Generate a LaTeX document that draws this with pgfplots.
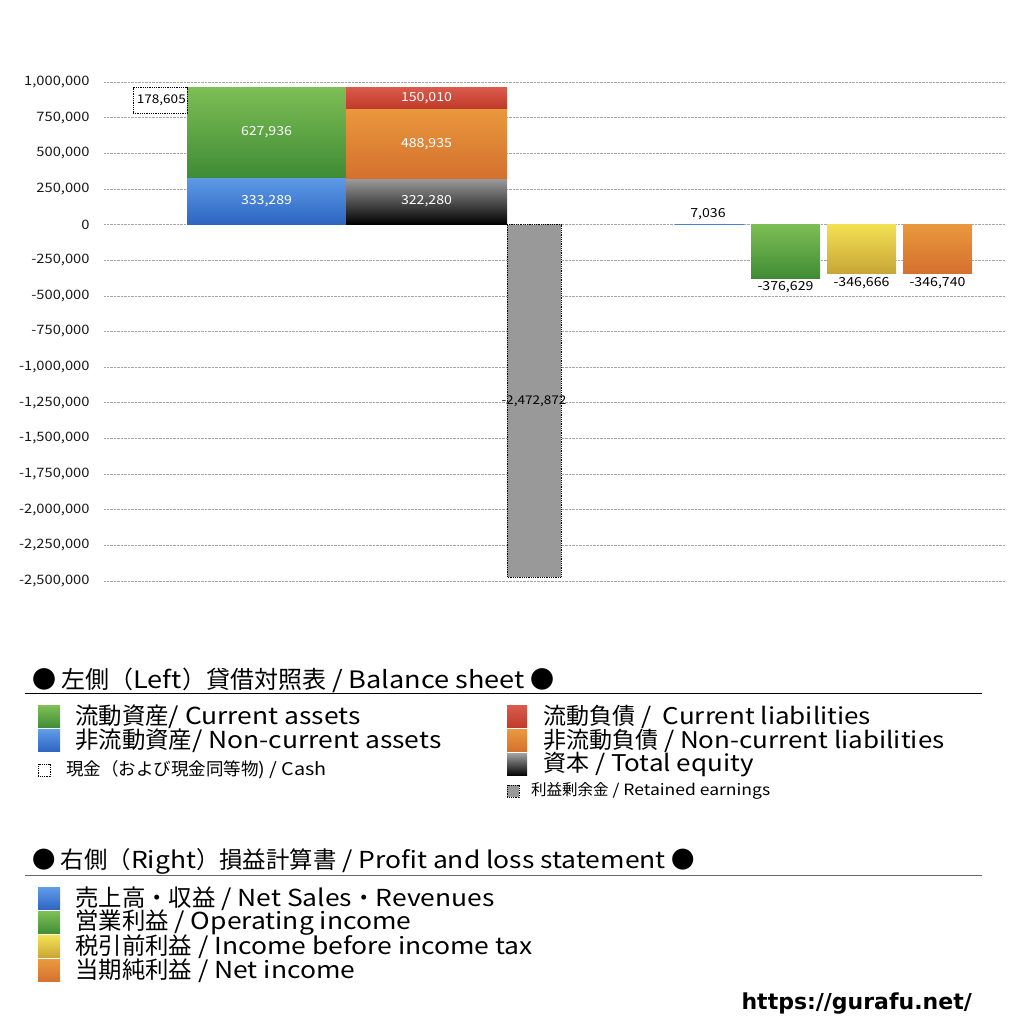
\documentclass[border=0pt]{standalone}
\usepackage{pgfplots}
\pgfplotsset{compat=1.18}
\usepackage{fontspec}
\setmainfont{Noto Sans CJK JP}[FakeStretch=1.13]
\newfontfamily\Jf{Noto Sans CJK JP}
\newfontfamily\urlfont{DejaVu Sans}
\newcommand{\J}[1]{{\Jf #1}}
\definecolor{gT}{HTML}{7DBE55}\definecolor{gB}{HTML}{3F8C35}
\definecolor{bT}{HTML}{5E9BE8}\definecolor{bB}{HTML}{2C64C0}
\definecolor{rT}{HTML}{DA5A4C}\definecolor{rB}{HTML}{BF3A2A}
\definecolor{oT}{HTML}{E9983D}\definecolor{oB}{HTML}{D4702E}
\definecolor{kT}{HTML}{9C9C9C}\definecolor{kB}{HTML}{000000}
\definecolor{yT}{HTML}{F3E052}\definecolor{yB}{HTML}{C6A536}
\definecolor{gr}{HTML}{999999}
\newcommand{\fs}[1]{\fontsize{#1}{#1}\selectfont}
\begin{document}
\begin{tikzpicture}
\path[use as bounding box] (0pt,0pt) rectangle (1024pt,1024pt);
\begin{axis}[
  at={(104pt,443pt)}, anchor=south west, scale only axis,
  width=901pt, height=499pt,
  xmin=104, xmax=1005, ymin=-2500000, ymax=1000000,
  axis line style={draw=none}, major tick length=0pt,
  xtick=\empty, scaled y ticks=false,
  ytick={-2500000,-2250000,-2000000,-1750000,-1500000,-1250000,-1000000,-750000,-500000,-250000,0,250000,500000,750000,1000000},
  yticklabels={{-2,500,000},{-2,250,000},{-2,000,000},{-1,750,000},{-1,500,000},{-1,250,000},{-1,000,000},{-750,000},{-500,000},{-250,000},{0},{250,000},{500,000},{750,000},{1,000,000}},
  yticklabel style={font=\fs{13}, text=black!90, xshift=-11pt},
  ymajorgrids, grid style={densely dotted, black!35, line width=0.6pt},
  clip=false,
]
% Left: assets
\addplot[draw=none, top color=bT, bottom color=bB] coordinates {(187,0) (346,0) (346,333289) (187,333289)} -- cycle;
\addplot[draw=none, top color=gT, bottom color=gB] coordinates {(187,333289) (346,333289) (346,961225) (187,961225)} -- cycle;
\addplot[draw=black, densely dotted, line width=0.8pt, fill=white] coordinates {(133,782620) (187,782620) (187,961225) (133,961225)} -- cycle;
% liabilities & equity
\addplot[draw=none, top color=kT, bottom color=kB] coordinates {(346,0) (507,0) (507,322280) (346,322280)} -- cycle;
\addplot[draw=none, top color=oT, bottom color=oB] coordinates {(346,322280) (507,322280) (507,811215) (346,811215)} -- cycle;
\addplot[draw=none, top color=rT, bottom color=rB] coordinates {(346,811215) (507,811215) (507,961225) (346,961225)} -- cycle;
\addplot[draw=black, densely dotted, line width=0.8pt, fill=gr] coordinates {(507,0) (561,0) (561,-2472872) (507,-2472872)} -- cycle;
% Profit and loss
\addplot[draw=none, top color=bT, bottom color=bB] coordinates {(675,0) (744,0) (744,7036) (675,7036)} -- cycle;
\addplot[draw=none, top color=gT, bottom color=gB] coordinates {(751,0) (820,0) (820,-376629) (751,-376629)} -- cycle;
\addplot[draw=none, top color=yT, bottom color=yB] coordinates {(827,0) (896,0) (896,-346666) (827,-346666)} -- cycle;
\addplot[draw=none, top color=oT, bottom color=oB] coordinates {(903,0) (972,0) (972,-346740) (903,-346740)} -- cycle;
% labels
\node[font=\fs{12.5}, text=white] at (axis cs:266.5,166645) {333,289};
\node[font=\fs{12.5}, text=white] at (axis cs:266.5,647257) {627,936};
\node[font=\fs{12}, anchor=east, inner sep=0] at (axis cs:186,871922) {178,605};
\node[font=\fs{12.5}, text=white] at (axis cs:426.5,161140) {322,280};
\node[font=\fs{12.5}, text=white] at (axis cs:426.5,566748) {488,935};
\node[font=\fs{12.5}, text=white] at (axis cs:426.5,886220) {150,010};
\node[font=\fs{12}] at (axis cs:534,-1236436) {-2,472,872};
\node[font=\fs{12.5}, anchor=south] at (axis cs:708,7036) {7,036};
\node[font=\fs{12.5}, anchor=north] at (axis cs:785.5,-376629) {-376,629};
\node[font=\fs{12.5}, anchor=north] at (axis cs:861.5,-346666) {-346,666};
\node[font=\fs{12.5}, anchor=north] at (axis cs:937.5,-346740) {-346,740};
\end{axis}
% Legend section 1
\node[anchor=west, font=\fs{24}, inner sep=0] at (32pt,344pt) {\J{● 左側（}Left\J{）貸借対照表} / Balance sheet \J{●}};
\draw[line width=1pt] (25pt,330pt) -- (982pt,330pt);
\shade[top color=gT, bottom color=gB] (38pt,296pt) rectangle (60pt,318pt);
\node[anchor=west, font=\fs{23.4}, inner sep=0] at (75pt,307pt) {\J{流動資産}/ Current assets};
\shade[top color=bT, bottom color=bB] (38pt,272pt) rectangle (60pt,294pt);
\node[anchor=west, font=\fs{23.4}, inner sep=0] at (75pt,283pt) {\J{非流動資産}/ Non-current assets};
\draw[densely dotted, line width=0.8pt] (38pt,248pt) rectangle (50pt,260pt);
\node[anchor=west, font=\fs{17.5}, inner sep=0] at (66pt,254pt) {\J{現金（および現金同等物}) / Cash};
\shade[top color=rT, bottom color=rB] (507pt,296pt) rectangle (527pt,318pt);
\node[anchor=west, font=\fs{23}, inner sep=0] at (543pt,307pt) {\J{流動負債} /\ \ Current liabilities};
\shade[top color=oT, bottom color=oB] (507pt,272pt) rectangle (527pt,294pt);
\node[anchor=west, font=\fs{23}, inner sep=0] at (543pt,283pt) {\J{非流動負債} / Non-current liabilities};
\shade[top color=kT, bottom color=kB] (507pt,248pt) rectangle (527pt,270pt);
\node[anchor=west, font=\fs{23}, inner sep=0] at (543pt,259pt) {\J{資本} / Total equity};
\draw[densely dotted, line width=0.8pt, fill=gr] (507pt,227pt) rectangle (519pt,239pt);
\node[anchor=west, font=\fs{15.5}, inner sep=0] at (531pt,233pt) {\J{利益剰余金} / Retained earnings};
% Legend section 2
\node[anchor=west, font=\fs{23.4}, inner sep=0] at (32pt,163pt) {\J{● 右側（}Right\J{）損益計算書} / Profit and loss statement \J{●}};
\draw[line width=1pt, black!60] (25pt,148pt) -- (982pt,148pt);
\shade[top color=bT, bottom color=bB] (38pt,114pt) rectangle (60pt,136pt);
\node[anchor=west, font=\fs{23.4}, inner sep=0] at (75pt,125pt) {\J{売上高・収益} / Net Sales\J{・}Revenues};
\shade[top color=gT, bottom color=gB] (38pt,90pt) rectangle (60pt,112pt);
\node[anchor=west, font=\fs{23.4}, inner sep=0] at (75pt,101pt) {\J{営業利益} / Operating income};
\shade[top color=yT, bottom color=yB] (38pt,66pt) rectangle (60pt,88pt);
\node[anchor=west, font=\fs{23.4}, inner sep=0] at (75pt,77pt) {\J{税引前利益} / Income before income tax};
\shade[top color=oT, bottom color=oB] (38pt,42pt) rectangle (60pt,64pt);
\node[anchor=west, font=\fs{23.4}, inner sep=0] at (75pt,53pt) {\J{当期純利益} / Net income};
\node[anchor=east, font=\urlfont\bfseries\fs{22}, inner sep=0] at (972pt,20pt) {https://gurafu.net/};
\end{tikzpicture}
\end{document}
